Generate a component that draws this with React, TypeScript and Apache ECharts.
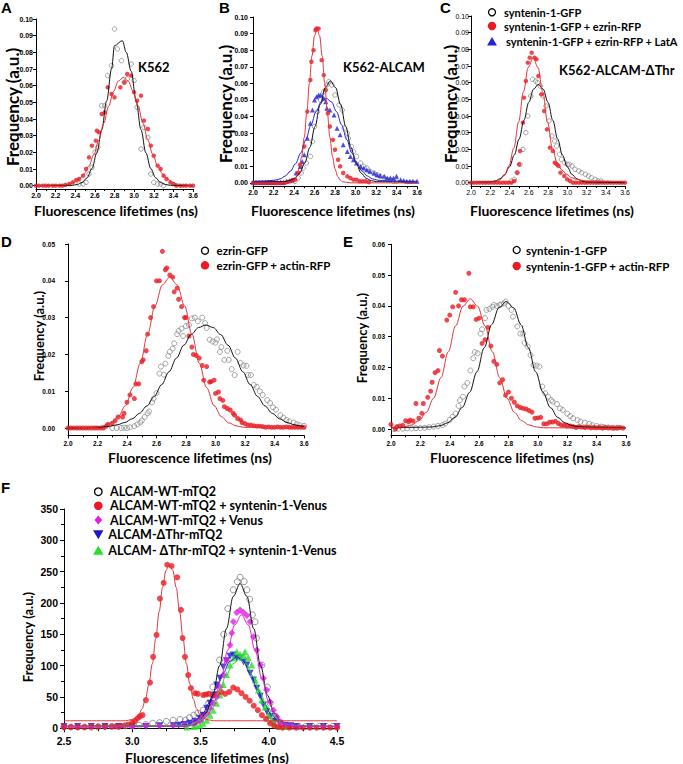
import React, { useEffect, useRef } from "react";
import * as echarts from "echarts";

// ---------------- tick labels ----------------
const xTicksABCDE = [2.0, 2.2, 2.4, 2.6, 2.8, 3.0, 3.2, 3.4, 3.6];
const yTicksABC = [0, 0.01, 0.02, 0.03, 0.04, 0.05, 0.06, 0.07, 0.08, 0.09, 0.1];
const yTicksD = [0, 0.01, 0.02, 0.03, 0.04, 0.05];
const yTicksE = [0, 0.01, 0.02, 0.03, 0.04, 0.05, 0.06];
const xTicksF = [2.5, 3.0, 3.5, 4.0, 4.5];
const yTicksF = [0, 50, 100, 150, 200, 250, 300, 350];

// ---------------- panel A : K562 ----------------
const aGrayPts = [[2.44,0.001],[2.48,0.001],[2.51,0.002],[2.54,0.007],[2.57,0.011],[2.60,0.020],[2.63,0.023],[2.67,0.048],[2.70,0.048],[2.73,0.066],[2.77,0.072],[2.80,0.094],[2.83,0.082],[2.87,0.075],[2.90,0.062],[2.93,0.064],[2.97,0.073],[3.00,0.063],[3.03,0.047],[3.07,0.022],[3.10,0.035],[3.14,0.029],[3.17,0.007],[3.20,0.002],[3.24,0.001],[3.27,0.001],[3.30,0.000]];
const aRedPts = [[2.0,0],[2.03,0],[2.07,0],[2.10,0],[2.13,0],[2.17,0],[2.20,0],[2.24,0],[2.27,0],[2.30,0.0005],[2.34,0.001],[2.375,0.002],[2.41,0.0034],[2.44,0.004],[2.48,0.006],[2.51,0.010],[2.54,0.017],[2.57,0.024],[2.61,0.027],[2.62,0.033],[2.64,0.032],[2.67,0.043],[2.70,0.044],[2.73,0.059],[2.77,0.055],[2.80,0.053],[2.86,0.059],[2.90,0.062],[2.93,0.067],[2.97,0.066],[3.00,0.056],[3.03,0.051],[3.07,0.054],[3.10,0.039],[3.14,0.034],[3.17,0.024],[3.20,0.018],[3.24,0.012],[3.27,0.010],[3.30,0.006],[3.33,0.004],[3.37,0.002],[3.40,0.001],[3.43,0],[3.47,0],[3.50,0],[3.53,0],[3.57,0],[3.60,0]];
const aBlackLine = [[2.0,0],[2.37,0.0002],[2.42,0.0007],[2.47,0.0019],[2.52,0.0047],[2.57,0.0102],[2.62,0.0197],[2.67,0.0336],[2.72,0.0509],[2.77,0.0700],[2.80,0.0840],[2.88,0.0870],[2.92,0.0800],[2.97,0.0686],[3.02,0.0509],[3.07,0.0336],[3.12,0.0197],[3.17,0.0102],[3.22,0.0047],[3.27,0.0019],[3.32,0.0007],[3.37,0.0002],[3.6,0]];
const aRedLine = [[2.0,0],[2.29,0.0004],[2.34,0.001],[2.39,0.002],[2.44,0.0039],[2.49,0.0071],[2.54,0.0119],[2.59,0.0187],[2.64,0.0273],[2.69,0.0374],[2.74,0.0476],[2.79,0.0566],[2.84,0.0628],[2.89,0.065],[2.94,0.0628],[2.99,0.0566],[3.04,0.0476],[3.09,0.0374],[3.14,0.0273],[3.19,0.0187],[3.24,0.0119],[3.29,0.0071],[3.34,0.0039],[3.39,0.002],[3.44,0.001],[3.49,0.0004],[3.6,0]];

// ---------------- panel B : K562-ALCAM ----------------
const bGrayPts = [[2.41,0.001],[2.44,0.003],[2.47,0.006],[2.49,0.009],[2.52,0.012],[2.56,0.016],[2.58,0.025],[2.60,0.034],[2.63,0.043],[2.66,0.050],[2.69,0.055],[2.72,0.059],[2.74,0.061],[2.77,0.059],[2.80,0.053],[2.84,0.047],[2.87,0.044],[2.89,0.033],[2.92,0.030],[2.93,0.027],[2.96,0.022],[2.98,0.019],[3.01,0.016],[3.05,0.012],[3.08,0.010],[3.11,0.009],[3.14,0.007],[3.18,0.006],[3.21,0.005],[3.24,0.004],[3.28,0.003],[3.31,0.002],[3.34,0.002],[3.37,0.001],[3.40,0.001]];
const bBluePts = [[2.0,0.0005],[2.03,0.0005],[2.06,0.0005],[2.09,0.0005],[2.12,0.0005],[2.15,0.0005],[2.18,0.0005],[2.21,0.0005],[2.24,0.0005],[2.27,0.0005],[2.30,0.0005],[2.33,0.001],[2.36,0.0015],[2.38,0.002],[2.42,0.006],[2.46,0.010],[2.48,0.013],[2.50,0.017],[2.53,0.027],[2.56,0.036],[2.58,0.044],[2.60,0.050],[2.62,0.052],[2.64,0.053],[2.66,0.053],[2.69,0.051],[2.71,0.049],[2.72,0.045],[2.75,0.044],[2.79,0.041],[2.82,0.033],[2.85,0.029],[2.88,0.023],[2.92,0.019],[2.95,0.016],[2.98,0.014],[3.01,0.012],[3.05,0.010],[3.08,0.009],[3.11,0.008],[3.14,0.007],[3.18,0.006],[3.21,0.005],[3.24,0.0045],[3.28,0.004],[3.31,0.003],[3.34,0.003],[3.37,0.003],[3.40,0.004],[3.44,0.002],[3.47,0.0015],[3.50,0.001],[3.53,0.001],[3.56,0.001],[3.60,0.001]];
const bRedPts = [[2.0,0],[2.03,0],[2.06,0],[2.09,0],[2.12,0],[2.15,0],[2.18,0],[2.21,0],[2.24,0],[2.27,0],[2.30,0],[2.33,0.0005],[2.36,0.001],[2.39,0.0015],[2.41,0.002],[2.44,0.006],[2.46,0.011],[2.50,0.022],[2.53,0.043],[2.56,0.062],[2.57,0.073],[2.59,0.080],[2.61,0.092],[2.62,0.093],[2.64,0.093],[2.67,0.074],[2.69,0.065],[2.71,0.056],[2.73,0.042],[2.75,0.034],[2.78,0.026],[2.80,0.020],[2.83,0.014],[2.85,0.010],[2.88,0.006],[2.92,0.004],[2.95,0.003],[2.98,0.002],[3.01,0.002],[3.04,0.001],[3.07,0.001],[3.10,0.001],[3.13,0.0005]];
const bBlackLine = [[2.0,0.0005],[2.305,0.0008],[2.355,0.0014],[2.405,0.0028],[2.455,0.006],[2.505,0.012],[2.555,0.0215],[2.605,0.034],[2.655,0.0472],[2.705,0.0575],[2.755,0.0615],[2.805,0.0575],[2.855,0.0472],[2.905,0.034],[2.955,0.0215],[3.005,0.012],[3.055,0.006],[3.105,0.0028],[3.155,0.0014],[3.205,0.0008],[3.6,0.0005]];
const bBlueLine = [[2.0,0.001],[2.115,0.0012],[2.215,0.0017],[2.265,0.0025],[2.315,0.0042],[2.365,0.0071],[2.415,0.0116],[2.465,0.0180],[2.515,0.0260],[2.565,0.0349],[2.615,0.0430],[2.665,0.0489],[2.715,0.051],[2.765,0.0489],[2.815,0.0430],[2.865,0.0349],[2.915,0.0260],[2.965,0.0180],[3.015,0.0116],[3.065,0.0071],[3.115,0.0042],[3.165,0.0025],[3.215,0.0017],[3.315,0.0012],[3.6,0.001]];
const bRedLine = [[2.0,0],[2.3,0.0001],[2.375,0.0007],[2.4,0.0018],[2.425,0.0041],[2.45,0.0085],[2.475,0.016],[2.5,0.0275],[2.525,0.0426],[2.55,0.0599],[2.575,0.0765],[2.6,0.0886],[2.625,0.093],[2.65,0.0886],[2.675,0.0765],[2.7,0.0599],[2.725,0.0426],[2.75,0.0275],[2.775,0.016],[2.8,0.0085],[2.825,0.0041],[2.85,0.0018],[2.875,0.0007],[2.95,0.0001],[3.6,0]];

// ---------------- panel C : K562-ALCAM-ΔThr ----------------
const cGrayPts = [[2.42,0.001],[2.45,0.002],[2.48,0.006],[2.51,0.011],[2.54,0.020],[2.57,0.030],[2.59,0.040],[2.62,0.052],[2.64,0.062],[2.67,0.061],[2.69,0.060],[2.72,0.058],[2.75,0.052],[2.78,0.046],[2.81,0.037],[2.84,0.028],[2.87,0.025],[2.89,0.022],[2.92,0.017],[2.94,0.014],[2.97,0.012],[3.00,0.011],[3.02,0.011],[3.05,0.010],[3.08,0.008],[3.12,0.007],[3.15,0.006],[3.19,0.005],[3.22,0.004],[3.25,0.003],[3.29,0.002],[3.32,0.001],[3.35,0.001]];
const cRedPts = [[2.0,0],[2.03,0],[2.06,0],[2.09,0],[2.12,0],[2.15,0],[2.18,0],[2.21,0],[2.24,0],[2.27,0],[2.30,0],[2.33,0],[2.36,0],[2.39,0],[2.42,0],[2.45,0.001],[2.48,0.006],[2.50,0.011],[2.51,0.019],[2.54,0.036],[2.55,0.051],[2.57,0.061],[2.59,0.072],[2.61,0.075],[2.63,0.078],[2.66,0.075],[2.68,0.074],[2.70,0.064],[2.73,0.053],[2.76,0.043],[2.79,0.032],[2.82,0.021],[2.85,0.019],[2.87,0.012],[2.89,0.011],[2.91,0.010],[2.93,0.006],[2.97,0.004],[3.00,0.002],[3.03,0.001],[3.06,0],[3.09,0],[3.12,0],[3.15,0],[3.18,0],[3.21,0],[3.24,0],[3.27,0],[3.30,0],[3.33,0],[3.36,0],[3.39,0],[3.42,0],[3.45,0],[3.48,0],[3.51,0],[3.54,0],[3.57,0],[3.60,0]];
const cBlackLine = [[2.0,0],[2.2,0.0004],[2.25,0.001],[2.30,0.0023],[2.35,0.0049],[2.40,0.0095],[2.45,0.0166],[2.50,0.0262],[2.55,0.0374],[2.60,0.0482],[2.65,0.0561],[2.70,0.059],[2.75,0.0561],[2.80,0.0482],[2.85,0.0374],[2.90,0.0262],[2.95,0.0166],[3.00,0.0095],[3.05,0.0049],[3.10,0.0023],[3.15,0.001],[3.20,0.0004],[3.6,0]];
const cRedLine = [[2.0,0],[2.245,0.0004],[2.295,0.0015],[2.345,0.0042],[2.395,0.0101],[2.445,0.0208],[2.495,0.0365],[2.545,0.0545],[2.595,0.0692],[2.645,0.075],[2.695,0.0692],[2.745,0.0545],[2.795,0.0365],[2.845,0.021],[2.895,0.012],[2.945,0.0075],[2.995,0.005],[3.045,0.003],[3.095,0.002],[3.2,0.001],[3.6,0.0005]];

// ---------------- panel D : ezrin ----------------
const dGrayPts = [[2.30,0],[2.33,0],[2.36,0],[2.38,0.0001],[2.40,0],[2.42,0.0002],[2.45,0.0005],[2.47,0.001],[2.49,0.0015],[2.50,0.002],[2.52,0.003],[2.54,0.004],[2.55,0.0045],[2.57,0.007],[2.58,0.008],[2.60,0.0095],[2.62,0.0148],[2.63,0.0167],[2.65,0.0145],[2.66,0.0175],[2.68,0.0196],[2.69,0.0207],[2.71,0.0216],[2.72,0.023],[2.74,0.0255],[2.75,0.0264],[2.77,0.027],[2.78,0.025],[2.80,0.0277],[2.82,0.028],[2.84,0.0298],[2.86,0.030],[2.88,0.029],[2.91,0.030],[2.93,0.0285],[2.94,0.0272],[2.96,0.024],[2.98,0.0235],[3.0,0.0232],[3.01,0.0241],[3.03,0.0207],[3.04,0.022],[3.06,0.0185],[3.08,0.021],[3.09,0.0185],[3.11,0.016],[3.13,0.0144],[3.15,0.0207],[3.17,0.0177],[3.19,0.017],[3.21,0.0169],[3.22,0.0144],[3.24,0.0144],[3.26,0.0117],[3.28,0.0112],[3.30,0.010],[3.32,0.009],[3.35,0.0076],[3.37,0.0068],[3.39,0.0056],[3.41,0.005],[3.44,0.0035],[3.46,0.0028],[3.48,0.0022],[3.50,0.0018],[3.53,0.0015],[3.55,0.0011],[3.57,0.0008],[3.60,0.0006]];
const dRedPts = [[2.0,0],[2.02,0],[2.04,0],[2.06,0],[2.08,0],[2.10,0],[2.12,0],[2.14,0],[2.16,0],[2.18,0],[2.20,0],[2.22,0],[2.24,0],[2.26,0.0005],[2.27,0.001],[2.30,0.0013],[2.32,0.002],[2.34,0.003],[2.37,0.003],[2.38,0.004],[2.40,0.007],[2.42,0.009],[2.45,0.008],[2.46,0.012],[2.48,0.012],[2.50,0.018],[2.51,0.0185],[2.53,0.021],[2.54,0.0255],[2.56,0.030],[2.58,0.033],[2.60,0.040],[2.62,0.040],[2.64,0.048],[2.66,0.043],[2.67,0.0435],[2.69,0.0416],[2.71,0.041],[2.72,0.037],[2.74,0.038],[2.75,0.035],[2.77,0.033],[2.79,0.030],[2.80,0.030],[2.82,0.025],[2.84,0.022],[2.85,0.020],[2.87,0.0197],[2.89,0.019],[2.91,0.017],[2.92,0.013],[2.94,0.0167],[2.96,0.0125],[2.97,0.0126],[2.99,0.013],[3.00,0.0094],[3.02,0.0098],[3.03,0.008],[3.05,0.0075],[3.06,0.0058],[3.08,0.0053],[3.10,0.0049],[3.12,0.004],[3.13,0.0035],[3.15,0.0026],[3.17,0.0022],[3.18,0.0015],[3.20,0.0012],[3.22,0.0008],[3.24,0.0008],[3.26,0.0006],[3.28,0.0005],[3.30,0.0005],[3.32,0.0004],[3.34,0.0002],[3.36,0.0003],[3.38,0.0002],[3.40,0.0002],[3.42,0.0003],[3.44,0.0002],[3.46,0.0002],[3.48,0.0003],[3.50,0.0002],[3.52,0.0002],[3.54,0.0002],[3.56,0.0002],[3.58,0.0002],[3.60,0.0002]];
const dBlackLine = [[2.0,0],[2.135,0.0001],[2.235,0.0003],[2.285,0.0005],[2.335,0.0009],[2.385,0.0015],[2.435,0.0025],[2.485,0.004],[2.535,0.006],[2.585,0.0086],[2.635,0.0118],[2.685,0.0153],[2.735,0.019],[2.785,0.0225],[2.835,0.0254],[2.885,0.0273],[2.935,0.028],[2.985,0.0273],[3.035,0.0254],[3.085,0.0225],[3.135,0.019],[3.185,0.0153],[3.235,0.0118],[3.285,0.0086],[3.335,0.006],[3.385,0.004],[3.435,0.0025],[3.485,0.0015],[3.535,0.0009],[3.585,0.0005],[3.6,0.0004]];
const dRedLine = [[2.0,0],[2.19,0.0002],[2.24,0.0006],[2.29,0.0014],[2.34,0.0031],[2.39,0.0061],[2.44,0.011],[2.49,0.0176],[2.54,0.0255],[2.59,0.0332],[2.64,0.0389],[2.69,0.041],[2.74,0.0389],[2.79,0.0332],[2.84,0.0255],[2.89,0.0176],[2.94,0.011],[2.99,0.0061],[3.04,0.0031],[3.09,0.0014],[3.14,0.0006],[3.19,0.0002],[3.6,0]];

// ---------------- panel E : syntenin-1 ----------------
const eGrayPts = [[2.02,0],[2.05,0.0001],[2.08,0.0001],[2.11,0.0002],[2.14,0.0002],[2.17,0.0003],[2.20,0.0003],[2.23,0.0004],[2.26,0.0006],[2.29,0.0008],[2.32,0.001],[2.35,0.0013],[2.37,0.0018],[2.40,0.003],[2.42,0.004],[2.44,0.005],[2.46,0.0075],[2.47,0.0094],[2.49,0.0105],[2.50,0.0138],[2.52,0.015],[2.54,0.019],[2.56,0.023],[2.57,0.025],[2.59,0.0246],[2.61,0.031],[2.62,0.0324],[2.64,0.036],[2.65,0.0387],[2.67,0.039],[2.69,0.0397],[2.70,0.0403],[2.72,0.040],[2.74,0.0403],[2.75,0.0405],[2.77,0.0408],[2.78,0.0414],[2.80,0.040],[2.82,0.0387],[2.83,0.0365],[2.86,0.0333],[2.88,0.031],[2.90,0.031],[2.91,0.028],[2.93,0.0268],[2.95,0.024],[2.97,0.0208],[2.99,0.0206],[3.01,0.0203],[3.03,0.0138],[3.05,0.0116],[3.07,0.0105],[3.09,0.0094],[3.10,0.0089],[3.13,0.0081],[3.15,0.0067],[3.17,0.0062],[3.20,0.005],[3.22,0.0042],[3.24,0.0035],[3.27,0.0029],[3.29,0.0024],[3.32,0.0021],[3.35,0.0017],[3.37,0.0013],[3.40,0.001],[3.43,0.0008],[3.45,0.0006],[3.48,0.0005],[3.51,0.0004],[3.54,0.0004]];
const eRedPts = [[2.0,0.0015],[2.03,0],[2.04,0.0008],[2.06,0.001],[2.08,0.0012],[2.10,0.0027],[2.12,0.0024],[2.13,0.0029],[2.15,0.0026],[2.17,0.0083],[2.19,0.0035],[2.21,0.0051],[2.22,0.0083],[2.25,0.0103],[2.27,0.0123],[2.28,0.0152],[2.30,0.0183],[2.32,0.019],[2.33,0.0255],[2.35,0.0237],[2.38,0.0354],[2.40,0.037],[2.42,0.0397],[2.44,0.0444],[2.46,0.040],[2.48,0.042],[2.50,0.042],[2.53,0.0506],[2.54,0.0397],[2.56,0.0397],[2.58,0.0356],[2.60,0.036],[2.62,0.0278],[2.64,0.029],[2.66,0.033],[2.68,0.027],[2.70,0.022],[2.72,0.021],[2.74,0.015],[2.76,0.016],[2.78,0.011],[2.80,0.012],[2.82,0.010],[2.84,0.0087],[2.86,0.0075],[2.88,0.007],[2.90,0.0067],[2.92,0.0065],[2.94,0.006],[2.96,0.0055],[2.98,0.0035],[3.00,0.0036],[3.02,0.0038],[3.04,0.0017],[3.06,0.0017],[3.08,0.0022],[3.10,0.0023],[3.12,0.0025],[3.14,0.0018],[3.16,0.0013],[3.18,0.0012],[3.20,0.001],[3.22,0.001],[3.24,0.0008],[3.26,0.0005],[3.28,0.0008],[3.30,0.0006],[3.32,0.0005],[3.34,0.0006],[3.36,0.0004],[3.38,0.0005],[3.40,0.0004],[3.42,0.0005],[3.44,0.0003],[3.46,0.0005],[3.48,0.0004],[3.50,0.0004],[3.52,0.0003],[3.54,0.0004],[3.56,0.0005],[3.58,0.0003]];
const eBlackLine = [[2.0,0.0004],[2.235,0.0006],[2.285,0.0007],[2.335,0.0011],[2.385,0.002],[2.435,0.0038],[2.485,0.007],[2.535,0.0119],[2.585,0.0186],[2.635,0.0264],[2.685,0.0339],[2.735,0.0394],[2.785,0.0414],[2.835,0.0394],[2.885,0.0339],[2.935,0.0264],[2.985,0.0186],[3.035,0.0119],[3.085,0.007],[3.135,0.0038],[3.185,0.002],[3.235,0.0011],[3.285,0.0007],[3.335,0.0006],[3.6,0.0004]];
const eRedLine = [[2.0,0.0003],[2.09,0.0007],[2.14,0.0013],[2.19,0.0027],[2.24,0.0054],[2.29,0.01],[2.34,0.0167],[2.39,0.0251],[2.44,0.0335],[2.49,0.0399],[2.54,0.0423],[2.59,0.0399],[2.64,0.0335],[2.69,0.0251],[2.74,0.0167],[2.79,0.01],[2.84,0.0054],[2.89,0.0027],[2.94,0.0013],[2.99,0.0007],[3.04,0.0004],[3.6,0.0003]];

// ---------------- panel F : ALCAM-mTQ2 ----------------
const fGrayPts = [[2.5,2],[2.55,2],[2.6,2],[2.65,2],[2.7,2],[2.75,2],[2.8,3],[2.85,3],[2.9,3],[2.95,4],[3.0,4],[3.05,5],[3.1,6],[3.15,8],[3.2,9],[3.25,11],[3.3,13],[3.35,14],[3.39,13],[3.42,17],[3.45,21],[3.48,24],[3.52,29],[3.56,40],[3.59,66],[3.64,109],[3.67,150],[3.70,191],[3.74,221],[3.77,234],[3.79,241],[3.82,234],[3.84,221],[3.86,206],[3.88,181],[3.90,170],[3.91,144],[3.95,101],[3.99,66],[4.01,40],[4.05,19],[4.09,8],[4.13,4],[4.17,3],[4.22,3],[4.27,3],[4.32,3],[4.37,3],[4.42,3],[4.47,3]];
const fRedPts = [[2.5,2],[2.55,2],[2.6,2],[2.65,2],[2.7,3],[2.75,3],[2.8,3],[2.85,3],[2.88,3],[2.91,4],[2.94,4],[2.97,6],[3.0,9],[3.02,12],[3.04,16],[3.055,19],[3.075,21],[3.10,45],[3.13,73],[3.153,114],[3.178,149],[3.203,207],[3.23,232],[3.256,261],[3.288,259],[3.329,241],[3.357,189],[3.369,144],[3.386,114],[3.41,85],[3.43,64],[3.46,56],[3.48,55],[3.52,53],[3.54,54],[3.56,55],[3.59,52],[3.62,55],[3.65,58],[3.68,55],[3.71,58],[3.74,65],[3.77,62],[3.80,56],[3.83,50],[3.86,44],[3.89,36],[3.92,29],[3.95,21],[3.98,15],[4.01,8],[4.04,4],[4.07,2],[4.1,1],[4.15,1],[4.2,1],[4.25,1],[4.3,1],[4.35,1],[4.4,1],[4.45,1],[4.5,1]];
const fMagPts = [[2.5,3],[2.6,3],[2.7,3],[2.8,3],[2.9,3],[3.0,3],[3.1,4],[3.2,4],[3.3,5],[3.38,6],[3.45,8],[3.47,11],[3.50,13],[3.52,19],[3.545,24],[3.57,32],[3.594,40],[3.618,50],[3.643,66],[3.667,85],[3.692,109],[3.716,133],[3.729,152],[3.741,170],[3.766,185],[3.79,189],[3.815,185],[3.84,180],[3.863,170],[3.888,146],[3.912,125],[3.94,101],[3.961,80],[3.985,61],[4.01,42],[4.035,29],[4.06,18],[4.08,11],[4.10,7],[4.13,5],[4.17,4],[4.22,3],[4.3,3],[4.4,3],[4.5,3]];
const fBluePts = [[2.5,3],[2.6,3],[2.7,3],[2.8,3],[2.9,3],[3.0,3],[3.1,3],[3.2,4],[3.30,4],[3.34,5],[3.38,6],[3.42,8],[3.46,11],[3.496,16],[3.52,21],[3.545,32],[3.57,40],[3.594,53],[3.618,69],[3.643,80],[3.667,98],[3.69,108],[3.716,115],[3.741,117],[3.766,112],[3.79,112],[3.815,106],[3.84,101],[3.863,88],[3.888,77],[3.912,64],[3.937,51],[3.961,37],[3.985,27],[4.01,19],[4.045,11],[4.08,8],[4.12,5],[4.16,4],[4.2,3],[4.3,3],[4.4,3],[4.5,3]];
const fGreenPts = [[3.40,2],[3.45,3],[3.47,4],[3.496,5],[3.52,8],[3.545,13],[3.57,21],[3.594,29],[3.618,40],[3.643,53],[3.667,70],[3.692,86],[3.716,101],[3.741,112],[3.766,122],[3.79,118],[3.815,116],[3.826,122],[3.85,113],[3.875,101],[3.9,77],[3.924,61],[3.948,45],[3.973,34],[3.997,21],[4.02,13],[4.045,8],[4.08,4],[4.12,3]];
const fBlackLine = [[2.5,3],[3.39,3.5],[3.44,5.2],[3.49,10.5],[3.54,24.4],[3.59,53],[3.64,100],[3.69,159],[3.74,210.5],[3.79,231],[3.84,210.5],[3.89,159],[3.94,100],[3.99,53],[4.04,24.4],[4.09,10.5],[4.14,5.2],[4.19,3.5],[4.5,3]];
const fRedLine = [[2.5,12],[2.95,12],[2.997,13.9],[3.022,16.4],[3.047,21.5],[3.072,31],[3.097,46.7],[3.122,70.5],[3.147,103],[3.172,143],[3.197,186],[3.222,224.8],[3.247,252],[3.272,262],[3.297,252],[3.322,224.8],[3.347,186],[3.372,143],[3.397,103],[3.422,70.5],[3.447,46.7],[3.472,31],[3.497,21.5],[3.522,16.4],[3.547,13.9],[3.597,12],[4.5,12]];
const fMagLine = [[2.5,3],[3.40,3.4],[3.45,4.7],[3.50,8.9],[3.55,19.7],[3.60,42],[3.65,79],[3.70,125],[3.75,165],[3.80,181],[3.85,165],[3.90,125],[3.95,79],[4.00,42],[4.05,19.7],[4.10,8.9],[4.15,4.7],[4.20,3.4],[4.5,3]];
const fBlueLine = [[2.5,3],[3.315,3.5],[3.365,4.5],[3.415,7],[3.465,12.8],[3.515,23.5],[3.565,40.6],[3.615,63.4],[3.665,87.7],[3.715,106.8],[3.765,114],[3.815,106.8],[3.865,87.7],[3.915,63.4],[3.965,40.6],[4.015,23.5],[4.065,12.8],[4.115,7],[4.165,4.5],[4.215,3.5],[4.5,3]];
const fGreenLine = [[2.5,3],[3.385,3.9],[3.435,5.9],[3.485,10.5],[3.535,19.8],[3.585,35.7],[3.635,58],[3.685,82.6],[3.735,102.4],[3.785,110],[3.835,102.4],[3.885,82.6],[3.935,58],[3.985,35.7],[4.035,19.8],[4.085,10.5],[4.135,5.9],[4.185,3.9],[4.5,3]];

// ---------------- texts ----------------
const panelTitles = ["K562", "K562-ALCAM", "K562-ALCAM-ΔThr"];
const legendC = ["syntenin-1-GFP", "syntenin-1-GFP + ezrin-RFP", "syntenin-1-GFP + ezrin-RFP + LatA"];
const legendD = ["ezrin-GFP", "ezrin-GFP + actin-RFP"];
const legendE = ["syntenin-1-GFP", "syntenin-1-GFP + actin-RFP"];
const legendF = ["ALCAM-WT-mTQ2", "ALCAM-WT-mTQ2 + syntenin-1-Venus", "ALCAM-WT-mTQ2 + Venus", "ALCAM-ΔThr-mTQ2", "ALCAM- ΔThr-mTQ2 + syntenin-1-Venus"];
const xTitle = "Fluorescence lifetimes (ns)";
const yTitle = "Frequency (a.u.)";

// ---------------- styles ----------------
const RED = "#ea1a22";
const RED_LINE = "#e3343a";
const GRAY = "#8c8c8c";
const BLUE = "#2222d6";
const NAVY = "#1a1ac8";
const MAG = "#e41ee2";
const GREEN = "#2ade2a";
const TF = "Lato, 'Open Sans', sans-serif";
const LF = "'Liberation Sans', Arial, sans-serif";

const grids = [
  { left: 36, top: 19, width: 157, height: 170 },
  { left: 253, top: 17, width: 164, height: 169.3 },
  { left: 471, top: 16, width: 154, height: 170 },
  { left: 68, top: 244, width: 236, height: 191.4 },
  { left: 391, top: 244.3, width: 235, height: 190.9 },
  { left: 64, top: 509, width: 273, height: 219.3 },
];

type AxisSpec = { size: number; weight: string; ym: number; xm: number };
const axisSpecs: AxisSpec[] = [
  { size: 7, weight: "bold", ym: 3, xm: 3 },
  { size: 7, weight: "bold", ym: 5, xm: 3 },
  { size: 7, weight: "normal", ym: 2, xm: 3 },
  { size: 6.5, weight: "bold", ym: 13, xm: 5 },
  { size: 6.5, weight: "bold", ym: 6, xm: 5 },
  { size: 10.5, weight: "bold", ym: 6, xm: 7 },
];

function makeXAxis(i: number) {
  const s = axisSpecs[i];
  const isF = i === 5;
  const ticks = isF ? xTicksF : xTicksABCDE;
  return {
    gridIndex: i,
    type: "value",
    min: ticks[0],
    max: ticks[ticks.length - 1],
    interval: isF ? 0.5 : 0.2,
    axisLine: { show: true, onZero: false, lineStyle: { color: "#000", width: 1 } },
    axisTick: { show: true, length: isF ? 4 : 3, lineStyle: { color: "#000", width: 1 } },
    minorTick: { show: true, splitNumber: 2, length: isF ? 3 : 2, lineStyle: { color: "#000", width: 1 } },
    splitLine: { show: false },
    minorSplitLine: { show: false },
    axisLabel: {
      show: true, margin: s.xm, fontSize: s.size, fontWeight: s.weight, fontFamily: LF, color: "#000",
      formatter: (v: number) => v.toFixed(1),
    },
  };
}

function makeYAxis(i: number) {
  const s = axisSpecs[i];
  if (i === 5) {
    return {
      gridIndex: i, type: "value", min: yTicksF[0], max: yTicksF[yTicksF.length - 1], interval: 50,
      axisLine: { show: true, lineStyle: { color: "#000", width: 1 } },
      axisTick: { show: true, length: 4, lineStyle: { color: "#000" } },
      minorTick: { show: true, splitNumber: 2, length: 3, lineStyle: { color: "#000" } },
      splitLine: { show: false }, minorSplitLine: { show: false },
      axisLabel: { margin: s.ym, fontSize: s.size, fontWeight: s.weight, fontFamily: LF, color: "#000" },
    };
  }
  const ticks = i < 3 ? yTicksABC : i === 3 ? yTicksD : yTicksE;
  return {
    gridIndex: i, type: "value", min: -0.002, max: ticks[ticks.length - 1],
    axisLine: { show: true, lineStyle: { color: "#000", width: 1 } },
    axisTick: { show: true, length: 3, customValues: ticks, lineStyle: { color: "#000" } },
    splitLine: { show: false },
    axisLabel: {
      customValues: ticks, margin: s.ym, fontSize: s.size, fontWeight: s.weight, fontFamily: LF, color: "#000",
      formatter: (v: number) => v.toFixed(2),
    },
  };
}

function scatter(name: string, gi: number, data: number[][], symbol: string, size: number, color: string, hollow = false, rotate = 0) {
  return {
    name, type: "scatter", xAxisIndex: gi, yAxisIndex: gi, data, symbol, symbolSize: size, symbolRotate: rotate,
    silent: true, z: 2,
    itemStyle: hollow
      ? { color: "rgba(255,255,255,0)", borderColor: color, borderWidth: 1 }
      : { color, borderWidth: 0 },
  };
}

function line(name: string, gi: number, data: number[][], color: string) {
  return {
    name, type: "line", xAxisIndex: gi, yAxisIndex: gi, data, showSymbol: false, symbol: "none",
    smooth: 0.35, smoothMonotone: "x", silent: true, z: 3,
    lineStyle: { color, width: 1 },
  };
}

function txt(text: string, x: number, y: number, size: number, opts: any = {}) {
  return {
    type: "text", x, y, rotation: opts.rotation || 0, silent: true,
    style: {
      text, fill: "#000", fontSize: size, fontWeight: opts.weight || "bold", fontFamily: opts.family || TF,
      align: opts.align || "left", textAlign: opts.align || "left",
      verticalAlign: "middle", textVerticalAlign: "middle",
    },
  };
}

function openCircle(cx: number, cy: number, r: number) {
  return { type: "circle", shape: { cx, cy, r }, style: { fill: "#fff", stroke: "#000", lineWidth: 1.3 }, silent: true };
}
function dot(cx: number, cy: number, r: number, color: string) {
  return { type: "circle", shape: { cx, cy, r }, style: { fill: color }, silent: true };
}
function tri(cx: number, cy: number, h: number, color: string, down = false) {
  const s = down ? -1 : 1;
  return {
    type: "polygon", silent: true,
    shape: { points: [[cx, cy - s * h * 0.55], [cx - h * 0.58, cy + s * h * 0.45], [cx + h * 0.58, cy + s * h * 0.45]] },
    style: { fill: color },
  };
}
function diamond(cx: number, cy: number, r: number, color: string) {
  return {
    type: "polygon", silent: true,
    shape: { points: [[cx, cy - r], [cx + r * 0.85, cy], [cx, cy + r], [cx - r * 0.85, cy]] },
    style: { fill: color },
  };
}

export default function App() {
  const ref = useRef<HTMLDivElement>(null);
  useEffect(() => {
    if (!ref.current) return;
    const chart = echarts.init(ref.current, null, { renderer: "svg" });
    const series = [
      scatter("A ALCAM", 0, aGrayPts, "circle", 4.5, GRAY, true),
      scatter("A ALCAM + syntenin", 0, aRedPts, "circle", 4.5, RED),
      line("A fit 1", 0, aBlackLine, "#111"),
      line("A fit 2", 0, aRedLine, RED_LINE),

      scatter("B ALCAM", 1, bGrayPts, "circle", 4.5, GRAY, true),
      scatter("B ALCAM + syntenin + LatA", 1, bBluePts, "triangle", 5, BLUE),
      scatter("B ALCAM + syntenin", 1, bRedPts, "circle", 4.5, RED),
      line("B fit 1", 1, bBlackLine, "#111"),
      line("B fit 3", 1, bBlueLine, BLUE),
      line("B fit 2", 1, bRedLine, RED_LINE),

      scatter("C syntenin-1-GFP", 2, cGrayPts, "circle", 4.5, GRAY, true),
      scatter("C syntenin-1-GFP + ezrin-RFP", 2, cRedPts, "circle", 4.5, RED),
      line("C fit 1", 2, cBlackLine, "#111"),
      line("C fit 2", 2, cRedLine, RED_LINE),

      scatter("D ezrin-GFP", 3, dGrayPts, "circle", 5, GRAY, true),
      scatter("D ezrin-GFP + actin-RFP", 3, dRedPts, "circle", 5, RED),
      line("D fit 1", 3, dBlackLine, "#111"),
      line("D fit 2", 3, dRedLine, RED_LINE),

      scatter("E syntenin-1-GFP", 4, eGrayPts, "circle", 5, GRAY, true),
      scatter("E syntenin-1-GFP + actin-RFP", 4, eRedPts, "circle", 5, RED),
      line("E fit 1", 4, eBlackLine, "#111"),
      line("E fit 2", 4, eRedLine, RED_LINE),

      scatter("F ALCAM-WT-mTQ2", 5, fGrayPts, "circle", 6, "#7a7a7a", true),
      scatter("F ALCAM-ΔThr-mTQ2", 5, fBluePts, "triangle", 7, NAVY, false, 180),
      scatter("F ALCAM-ΔThr-mTQ2 + syntenin-1-Venus", 5, fGreenPts, "triangle", 7, GREEN),
      scatter("F ALCAM-WT-mTQ2 + Venus", 5, fMagPts, "diamond", 7, MAG),
      scatter("F ALCAM-WT-mTQ2 + syntenin-1-Venus", 5, fRedPts, "circle", 6, RED),
      line("F fit 1", 5, fBlackLine, "#111"),
      line("F fit 4", 5, fBlueLine, NAVY),
      line("F fit 5", 5, fGreenLine, GREEN),
      line("F fit 3", 5, fMagLine, MAG),
      line("F fit 2", 5, fRedLine, RED_LINE),
    ];

    const graphic: any[] = [
      txt("A", 1, 7, 15, { family: LF }),
      txt("B", 219, 7, 15, { family: LF }),
      txt("C", 440, 7, 15, { family: LF }),
      txt("D", 1, 241, 15, { family: LF }),
      txt("E", 343, 241, 15, { family: LF }),
      txt("F", 1, 487, 15, { family: LF }),
      txt(panelTitles[0], 138, 67, 13),
      txt(panelTitles[1], 343, 67, 13),
      txt(panelTitles[2], 559, 70, 13),
      // x titles
      txt(xTitle, 116, 210, 14, { align: "center" }),
      txt(xTitle, 333, 210, 14, { align: "center" }),
      txt(xTitle, 552, 210, 14, { align: "center" }),
      txt(xTitle, 190, 457, 14, { align: "center" }),
      txt(xTitle, 512, 457, 14, { align: "center" }),
      txt(xTitle, 207, 757, 14, { align: "center" }),
      // y titles
      txt(yTitle, 12, 107, 17, { align: "center", rotation: Math.PI / 2 }),
      txt(yTitle, 225, 104, 17, { align: "center", rotation: Math.PI / 2 }),
      txt(yTitle, 450, 104, 17, { align: "center", rotation: Math.PI / 2 }),
      txt(yTitle, 39, 336, 13, { align: "center", rotation: Math.PI / 2 }),
      txt(yTitle, 362, 338, 13, { align: "center", rotation: Math.PI / 2 }),
      txt(yTitle, 27.5, 637, 13, { align: "center", rotation: Math.PI / 2 }),
      // legend C
      openCircle(492, 12.3, 3.5), txt(legendC[0], 504, 12.3, 11),
      dot(492, 26, 4.2, RED), txt(legendC[1], 504, 26, 11),
      tri(492, 41.7, 8.5, BLUE), txt(legendC[2], 506, 41.7, 11),
      // legend D
      openCircle(205, 250.7, 3.5), txt(legendD[0], 216.5, 250.7, 11.5),
      dot(205, 265.3, 4.2, RED), txt(legendD[1], 216.5, 265.3, 11.5),
      // legend E
      openCircle(516.7, 250, 3.5), txt(legendE[0], 526, 250, 11.5),
      dot(516.7, 266, 4.2, RED), txt(legendE[1], 526, 266, 11.5),
      // legend F
      openCircle(98.3, 491.7, 3.8), txt(legendF[0], 110, 491.7, 12.5),
      dot(98.3, 505.7, 4.3, RED), txt(legendF[1], 110, 505.7, 12.5),
      diamond(98.3, 520, 4.5, MAG), txt(legendF[2], 110, 520, 12.5),
      tri(98.3, 534.3, 9, NAVY, true), txt(legendF[3], 108.3, 534.3, 12.5),
      tri(98.3, 550.7, 9, GREEN), txt(legendF[4], 108.3, 550.7, 12.5),
    ];

    chart.setOption({
      animation: false,
      backgroundColor: "#fff",
      grid: grids.map((g) => ({ ...g, containLabel: false })),
      xAxis: grids.map((_, i) => makeXAxis(i)),
      yAxis: grids.map((_, i) => makeYAxis(i)),
      series,
      graphic,
    });
    return () => chart.dispose();
  }, []);
  return <div ref={ref} style={{ position: "fixed", left: 0, top: 0, width: 683, height: 764, background: "#fff" }} />;
}
